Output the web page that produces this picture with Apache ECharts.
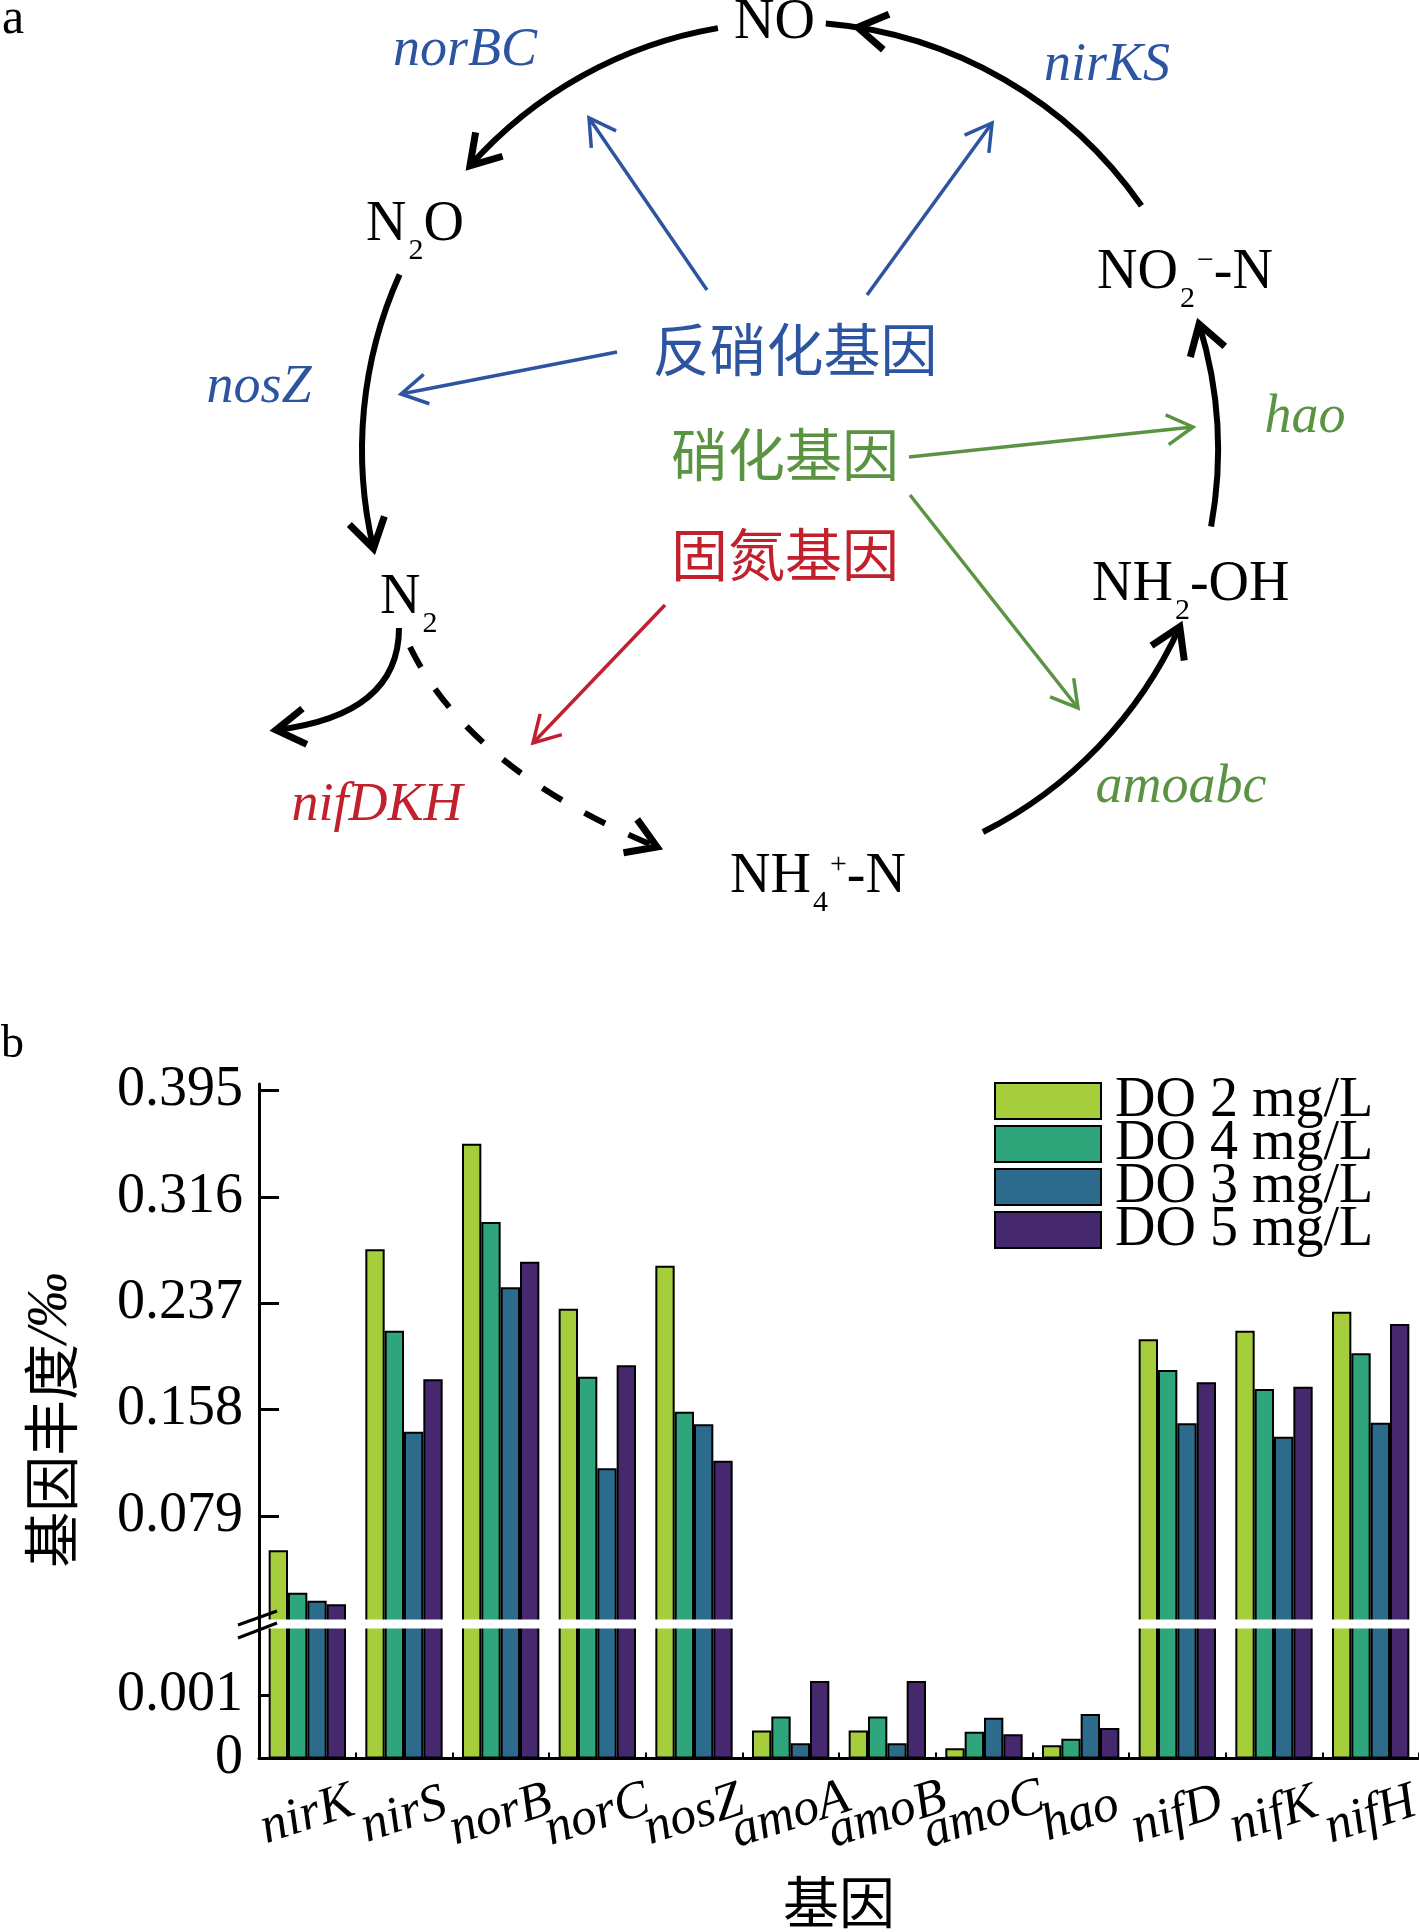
<!DOCTYPE html>
<html>
<head>
<meta charset="utf-8">
<script src="https://cdn.jsdelivr.net/npm/echarts@6/dist/echarts.min.js"></script>
<style>html,body{margin:0;padding:0;background:#fff}#c{width:1419px;height:1932px}</style>
</head>
<body>
<div id="c"></div>
<script>
// ================= Panel b : bar chart data =================
const genes = ['nirK','nirS','norB','norC','nosZ','amoA','amoB','amoC','hao','nifD','nifK','nifH'];
const seriesNames = ['DO 2 mg/L','DO 4 mg/L','DO 3 mg/L','DO 5 mg/L'];
const do2 = [0.0535, 0.2772, 0.3556, 0.2330, 0.2650, 0.00044, 0.00044, 0.00016, 0.00021, 0.2103, 0.2167, 0.2308];
const do4 = [0.0220, 0.2167, 0.2974, 0.1825, 0.1565, 0.00066, 0.00066, 0.00042, 0.00031, 0.1875, 0.1734, 0.1999];
const do3 = [0.0161, 0.1416, 0.2489, 0.1144, 0.1471, 0.00024, 0.00024, 0.00064, 0.00070, 0.1479, 0.1379, 0.1483];
const do5 = [0.0134, 0.1806, 0.2679, 0.1910, 0.1201, 0.00122, 0.00122, 0.00038, 0.00048, 0.1783, 0.1751, 0.2217];
const upperTicks = [0.079, 0.158, 0.237, 0.316, 0.395];
const lowerTicks = [0, 0.001];

// ================= Panel a : diagram data (diagram units) =================
const cycleCircle = [790, 450, 428];            // centre x, centre y, radius
// [start angle, end angle, arrow-tip angle] (degrees)
const cycleArcs = [
  [-34.8, -85.2, -80.9],
  [-99.7, -138.4, -138.4],
  [204.2, 166.7, 166.7],
  [63.2, 24.4, 24.4],
  [10.3, -17.1, -17.1]
];
// [x0, y0, ctrlX, ctrlY, x1, y1, dashed]
const sideCurves = [
  [399, 628, 399, 715, 276, 730, 0],
  [410, 647, 470, 770, 657, 847, 1]
];
// [x0, y0, x1, y1, group]
const geneArrows = [
  [707, 290, 589, 118, 0],
  [867, 295, 992, 123, 0],
  [617, 352, 401, 394, 0],
  [909, 457, 1193, 427, 1],
  [910, 495, 1078, 708, 1],
  [665, 605, 533, 743, 2]
];
// [left x, baseline y]
const chemPos = [[734, 38], [366, 240], [380, 613], [1097, 288], [1092, 600], [730, 892]];
const chemParts = [
  [['NO','n']],
  [['N','n'],['2','sub'],['O','n']],
  [['N','n'],['2','sub']],
  [['NO','n'],['2','sub'],['\u2212','sup'],['-N','n']],
  [['NH','n'],['2','sub'],['-OH','n']],
  [['NH','n'],['4','sub'],['+','sup'],['-N','n']]
];
const geneLabelText = ['norBC','nirKS','nosZ','hao','amoabc','nifDKH'];
const geneLabelPos = [[465, 65, 0], [1107, 80, 0], [259, 402, 0], [1305, 432, 1], [1181, 802, 1], [377, 820, 2]];
const groupLabelText = ['反硝化基因','硝化基因','固氮基因'];
const groupLabelPos = [[795, 352, 0], [785, 457, 1], [785, 557, 2]];

// ================= styling =================
const barColors = ['#a5cd3c', '#2ea57b', '#2d6b8c', '#45286e'];
const groupColors = ['#2c54a0', '#5a9442', '#c0212d'];
const SERIF = '"Liberation Serif", "Times New Roman", serif';
const CJK = '"Noto Sans CJK SC", sans-serif';
const K_MID = 0.26;

const mctx = document.createElement('canvas').getContext('2d');
function tw(t, font) { mctx.font = font; return mctx.measureText(t).width; }

function chevron(tip, dir, len, halfDeg, color, lw) {
  const h = halfDeg * Math.PI / 180;
  const bx = -dir[0], by = -dir[1];
  const r1 = [bx * Math.cos(h) - by * Math.sin(h), bx * Math.sin(h) + by * Math.cos(h)];
  const r2 = [bx * Math.cos(-h) - by * Math.sin(-h), bx * Math.sin(-h) + by * Math.cos(-h)];
  return {
    type: 'polyline',
    shape: { points: [[tip[0] + r1[0] * len, tip[1] + r1[1] * len], tip, [tip[0] + r2[0] * len, tip[1] + r2[1] * len]] },
    style: { stroke: color, fill: null, lineWidth: lw, lineJoin: 'miter', lineCap: 'butt' }
  };
}

function txt(x, y, text, font, fill, align) {
  return { type: 'text', x: x, y: y,
    style: { text: text, font: font, fill: fill, align: align, verticalAlign: 'middle',
             textAlign: align, textVerticalAlign: 'middle' } };
}

function renderCycleArc(params, api) {
  const c = api.coord([cycleCircle[0], cycleCircle[1]]);
  const r = api.coord([cycleCircle[0] + cycleCircle[2], cycleCircle[1]])[0] - c[0];
  const d2r = Math.PI / 180;
  const s = api.value(0) * d2r, e = api.value(1) * d2r, t = api.value(2) * d2r;
  const tip = [c[0] + r * Math.cos(t), c[1] + r * Math.sin(t)];
  const dir = [Math.sin(t), -Math.cos(t)];
  return { type: 'group', children: [
    { type: 'arc', shape: { cx: c[0], cy: c[1], r: r, startAngle: e, endAngle: s, clockwise: true },
      style: { stroke: '#000', fill: null, lineWidth: 6 } },
    chevron(tip, dir, 34, 32, '#000', 7)
  ] };
}

function renderSideCurve(params, api) {
  const p0 = api.coord([api.value(0), api.value(1)]);
  const cp = api.coord([api.value(2), api.value(3)]);
  const p1 = api.coord([api.value(4), api.value(5)]);
  const dashed = api.value(6) === 1;
  const dx = p1[0] - cp[0], dy = p1[1] - cp[1], L = Math.hypot(dx, dy);
  return { type: 'group', children: [
    { type: 'bezierCurve', shape: { x1: p0[0], y1: p0[1], cpx1: cp[0], cpy1: cp[1], x2: p1[0], y2: p1[1] },
      style: { stroke: '#000', fill: null, lineWidth: 6, lineDash: dashed ? [23, 26] : null } },
    chevron(p1, [dx / L, dy / L], 34, 32, '#000', 7)
  ] };
}

function renderGeneArrow(params, api) {
  const p0 = api.coord([api.value(0), api.value(1)]);
  const p1 = api.coord([api.value(2), api.value(3)]);
  const col = groupColors[api.value(4)];
  const dx = p1[0] - p0[0], dy = p1[1] - p0[1], L = Math.hypot(dx, dy);
  return { type: 'group', children: [
    { type: 'line', shape: { x1: p0[0], y1: p0[1], x2: p1[0], y2: p1[1] }, style: { stroke: col, lineWidth: 3.5 } },
    chevron(p1, [dx / L, dy / L], 30, 30, col, 3.5)
  ] };
}

function renderChem(params, api) {
  const p = api.coord([api.value(0), api.value(1)]);
  const parts = chemParts[params.dataIndex];
  let x = p[0];
  const children = [];
  parts.forEach(function (pt) {
    const k = pt[1];
    const fs = k === 'n' ? 56 : 30;
    const dy = k === 'sub' ? 19 : (k === 'sup' ? -19 : 0);
    const font = fs + 'px ' + SERIF;
    if (k !== 'n') x += 2;
    children.push(txt(x, p[1] + dy - K_MID * fs, pt[0], font, '#000', 'left'));
    x += tw(pt[0], font);
  });
  return { type: 'group', children: children };
}

function renderGeneLabel(params, api) {
  const p = api.coord([api.value(0), api.value(1)]);
  const fs = 54;
  return txt(p[0], p[1] - K_MID * fs, geneLabelText[params.dataIndex], 'italic ' + fs + 'px ' + SERIF,
             groupColors[api.value(2)], 'center');
}

function renderGroupLabel(params, api) {
  const p = api.coord([api.value(0), api.value(1)]);
  return txt(p[0], p[1] - 3, groupLabelText[params.dataIndex], '57px ' + CJK, groupColors[api.value(2)], 'center');
}

const diag = { type: 'custom', coordinateSystem: 'cartesian2d', xAxisIndex: 2, yAxisIndex: 2, silent: true, clip: false };

// ================= bar series =================
const allData = [do2, do4, do3, do5];
const barSeries = [];
[0, 1].forEach(function (gi) {
  allData.forEach(function (d, i) {
    barSeries.push({
      type: 'bar', name: seriesNames[i], data: d, xAxisIndex: gi, yAxisIndex: gi,
      barGap: '0%', barCategoryGap: '20%', clip: true, silent: true,
      itemStyle: { color: barColors[i], borderColor: '#000', borderWidth: 2 },
      emphasis: { disabled: true }
    });
  });
});

const yAxisCommon = function (min, max, ticks) {
  return {
    type: 'value', min: min, max: max,
    axisLine: { show: true, lineStyle: { color: '#000', width: 3 } },
    axisTick: { show: true, inside: true, length: 20, lineStyle: { color: '#000', width: 3 }, customValues: ticks },
    axisLabel: { color: '#000', fontSize: 56, fontFamily: SERIF, margin: 16, customValues: ticks,
                 formatter: function (v) { return String(v); } },
    splitLine: { show: false }
  };
};

const yLow = yAxisCommon(0, 0.00215, lowerTicks); yLow.gridIndex = 0;
const yUp = yAxisCommon(0, 0.4, upperTicks); yUp.gridIndex = 1;

const option = {
  animation: false,
  backgroundColor: '#fff',
  textStyle: { fontFamily: SERIF },
  grid: [
    { left: 259, top: 1622, width: 1160, height: 136.5, containLabel: false, outerBoundsMode: 'none' },
    { left: 259, top: 1084, width: 1160, height: 538.3, containLabel: false, outerBoundsMode: 'none' },
    { left: 0, top: 0, width: 1419, height: 960, containLabel: false, outerBoundsMode: 'none' }
  ],
  xAxis: [
    { type: 'category', gridIndex: 0, data: genes, boundaryGap: true,
      axisLine: { show: true, lineStyle: { color: '#000', width: 3 } },
      axisTick: { show: true, inside: true, length: 6, lineStyle: { color: '#000', width: 2 } },
      axisLabel: { interval: 0, rotate: 18, align: 'center', verticalAlign: 'middle', margin: 57, color: '#000',
                   fontSize: 52, fontStyle: 'italic', fontFamily: SERIF, hideOverlap: false },
      name: '基因', nameLocation: 'middle', nameGap: 115, nameMoveOverlap: false,
      nameTextStyle: { fontSize: 56, fontFamily: CJK, color: '#000' },
      splitLine: { show: false } },
    { type: 'category', gridIndex: 1, data: genes, show: false },
    { type: 'value', gridIndex: 2, min: 0, max: 1419, show: false }
  ],
  yAxis: [
    yLow, yUp,
    { type: 'value', gridIndex: 2, min: 0, max: 960, inverse: true, show: false }
  ],
  legend: {
    data: seriesNames, orient: 'vertical', left: 994, top: 1073, padding: 0,
    itemWidth: 106, itemHeight: 36, itemGap: -13, icon: 'rect', selectedMode: false,
    itemStyle: { borderColor: '#000', borderWidth: 2 },
    textStyle: { fontSize: 56, fontFamily: SERIF, color: '#000', padding: [0, 0, 0, 9] }
  },
  graphic: [
    { type: 'rect', shape: { x: 261, y: 1619.5, width: 1158, height: 9 }, style: { fill: '#fff' }, z: 100, silent: true },
    { type: 'line', shape: { x1: 238, y1: 1625, x2: 277, y2: 1611 }, style: { stroke: '#000', lineWidth: 3 }, z: 101 },
    { type: 'line', shape: { x1: 238, y1: 1638, x2: 277, y2: 1623 }, style: { stroke: '#000', lineWidth: 3 }, z: 101 },
    { type: 'text', x: 2, y: 33 - K_MID * 50, z: 101,
      style: { text: 'a', font: '50px ' + SERIF, fill: '#000', align: 'left', verticalAlign: 'middle', textAlign: 'left', textVerticalAlign: 'middle' } },
    { type: 'text', x: 1, y: 1057 - K_MID * 46, z: 101,
      style: { text: 'b', font: '46px ' + SERIF, fill: '#000', align: 'left', verticalAlign: 'middle', textAlign: 'left', textVerticalAlign: 'middle' } },
    { type: 'text', x: 51, y: 1420, rotation: Math.PI / 2, z: 101,
      style: { text: '{c|基因丰度}{l|/‰}', fill: '#000', align: 'center', verticalAlign: 'middle', textAlign: 'center', textVerticalAlign: 'middle',
               rich: { c: { fontSize: 56, fontFamily: CJK, fill: '#000' }, l: { fontSize: 56, fontFamily: SERIF, fontStyle: 'italic', fill: '#000' } } } }
  ],
  series: barSeries.concat([
    Object.assign({}, diag, { data: cycleArcs, renderItem: renderCycleArc }),
    Object.assign({}, diag, { data: sideCurves, renderItem: renderSideCurve }),
    Object.assign({}, diag, { data: geneArrows, renderItem: renderGeneArrow }),
    Object.assign({}, diag, { data: chemPos, renderItem: renderChem }),
    Object.assign({}, diag, { data: geneLabelPos, renderItem: renderGeneLabel }),
    Object.assign({}, diag, { data: groupLabelPos, renderItem: renderGroupLabel })
  ])
};

const chart = echarts.init(document.getElementById('c'), null, { renderer: 'canvas', width: 1419, height: 1932 });
chart.setOption(option);
</script>
</body>
</html>
